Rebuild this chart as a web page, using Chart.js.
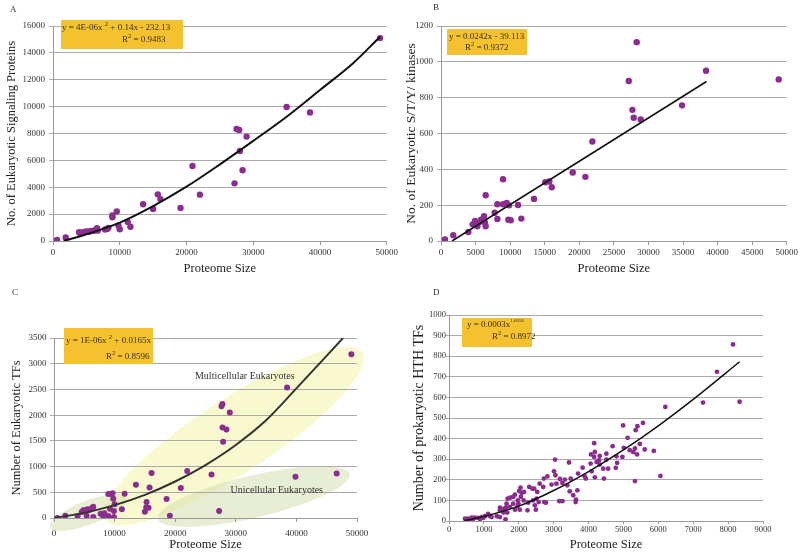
<!DOCTYPE html>
<html>
<head>
<meta charset="utf-8">
<script src="https://cdn.jsdelivr.net/npm/chart.js@4.4.1/dist/chart.umd.min.js"></script>
<style>
  body { margin: 0; background: #fff; width: 800px; height: 552px; position: relative; overflow: hidden; }
  canvas { position: absolute; }
</style>
</head>
<body>
<canvas id="chartA" style="left:0;top:0" width="400" height="276"></canvas>
<canvas id="chartB" style="left:400px;top:0" width="400" height="276"></canvas>
<canvas id="chartC" style="left:0;top:276px" width="400" height="276"></canvas>
<canvas id="chartD" style="left:400px;top:276px" width="400" height="276"></canvas>
<script>
'use strict';

const SERIF = '"Liberation Serif", "Times New Roman", serif';
const PURPLE = '#8b2d8f';

// A - signaling proteins
const sizeA = [600, 1900, 3900, 4100, 4400, 4800, 5100, 5400, 5700, 6100, 6400, 6600, 6700, 7800, 8100, 8300,
  8900, 8900, 9550, 9800, 10000, 11200, 11600, 13500, 15000, 15700, 16100, 19100, 20900, 22000,
  27200, 27500, 27900, 28000, 28400, 29000, 35000, 38500, 49000];
const signalA = [80, 260, 650, 580, 640, 690, 720, 680, 740, 760, 800, 950, 780, 860, 900, 980,
  1900, 1760, 2200, 1150, 880, 1420, 1060, 2730, 2380, 3470, 3120, 2460, 5580, 3450,
  4290, 8330, 8260, 6700, 5260, 7770, 9970, 9570, 15100];
const trendXA = [1600, 5000, 10000, 15000, 20000, 25000, 30000, 35000, 40000, 45000, 49000];
const trendYA = [0, 500, 1370, 2600, 4040, 5700, 7450, 9250, 11240, 13250, 15200];

// B - S/T/Y kinases
const sizeB = [580, 1780, 3950, 4580, 4920, 5160, 5260, 5540, 5790, 6220, 6360, 6460, 6460, 7760, 8150, 8150,
  8970, 8970, 9500, 9840, 9740, 10080, 11140, 11620, 13450, 15090, 15670, 16010, 19050, 20880, 21890,
  27150, 27680, 27870, 28300, 28880, 34860, 38330, 48840];
const kinaseB = [9, 32, 50, 93, 112, 93, 82, 106, 119, 138, 102, 82, 255, 158, 205, 123,
  345, 205, 212, 199, 119, 116, 201, 125, 235, 328, 332, 300, 382, 358, 555,
  893, 732, 688, 1110, 678, 757, 950, 902];
const trendXB = [1600, 38400];
const trendYB = [0, 890];

// C - eukaryotic TFs
const sizeC = [550, 1870, 3900, 4560, 4840, 5220, 5550, 5820, 6100, 6370, 6480, 5380, 6480, 7690, 8130, 8300,
  8130, 8960, 8960, 9400, 9670, 9230, 9780, 10000, 9890, 9890, 11210, 11650, 13520, 15000, 15220,
  15270, 15600, 15770, 16100, 18570, 19120, 20930, 21980, 25990, 27250, 27640, 27800, 29010, 27800,
  28460, 27910, 38460, 39840, 46650, 49070];
const tfC = [0, 45, 39, 116, 149, 155, 168, 155, 175, 200, 220, 45, 19, 84, 65, 90,
  39, 39, 466, 466, 479, 181, 375, 265, 136, 19, 168, 472, 647, 123, 207,
  310, 200, 595, 873, 369, 45, 582, 912, 848, 136, 2174, 2219, 2051, 1760,
  1721, 1481, 2536, 802, 867, 3183];
const trendXC = [0, 5000, 10000, 15000, 20000, 25000, 30000, 35000, 40000, 47700];
const trendYC = [0, 100, 250, 450, 710, 1030, 1420, 1900, 2520, 3500];

// D - prokaryotic HTH TFs
const sizeD = [8140, 7680, 7280, 8330, 6200, 6060, 4990, 5120, 5400, 5350, 5560, 5470, 5010, 5330, 5280, 5390,
  5610, 5870, 5330, 5180, 4160, 4180, 4070, 4160, 4230, 4300, 4320, 4420, 4440, 4180, 4060, 4090,
  4510, 4510, 4560, 4690, 4800, 4820, 4780, 4320, 4970, 3040, 3010, 3050, 3180, 3250, 3320, 3160,
  3250, 3440, 3490, 3460, 3560, 3640, 3630, 3390, 3700, 3830, 3890, 3920, 3680, 3080, 2940, 2720,
  2700, 2820, 2600, 2530, 2440, 2390, 2300, 2570, 2510, 2780, 2730, 2410, 2460, 2490, 2270, 2250,
  2080, 2050, 2010, 2060, 2150, 2140, 1970, 1990, 1960, 2030, 1890, 1840, 1750, 1680, 1840, 1750,
  1890, 1650, 1630, 1580, 1460, 1460, 1560, 1670, 1620, 1370, 1460, 1220, 1130, 1030, 940, 840,
  740, 650, 550, 460, 510, 700, 980, 1170, 890, 600, 1120];
const hthD = [857, 724, 575, 579, 554, 219, 464, 404, 460, 441, 476, 374, 355, 352, 335, 323,
  347, 340, 194, 344, 378, 335, 323, 311, 287, 295, 274, 254, 206, 212, 279, 241,
  327, 298, 254, 363, 314, 282, 258, 316, 311, 298, 241, 222, 204, 185, 201, 96,
  96, 284, 206, 144, 125, 104, 92, 173, 230, 259, 217, 206, 149, 181, 177, 206,
  165, 217, 181, 141, 157, 157, 165, 92, 109, 89, 92, 100, 76, 55, 89, 52,
  136, 162, 146, 117, 141, 100, 100, 84, 71, 55, 128, 117, 113, 109, 84, 68,
  55, 84, 65, 60, 65, 52, 41, 41, 8, 23, 19, 19, 31, 23, 19, 15,
  16, 16, 11, 11, 6, 11, 15, 24, 10, 6, 35];
const trendXD = [450, 1000, 2000, 3000, 4000, 5000, 6000, 7000, 8330];
const trendYD = [3, 22, 72, 148, 240, 345, 462, 590, 773];

function pairs(xs, ys) {
  return xs.map((x, i) => ({ x: x, y: ys[i] }));
}

// segments: [text, isSuperscript]
function drawSegments(ctx, segs, x, y, size, supSize) {
  ctx.textBaseline = 'middle';
  ctx.textAlign = 'left';
  segs.forEach(s => {
    if (s[1]) {
      ctx.font = supSize + 'px ' + SERIF;
      ctx.fillText(s[0], x, y - size * 0.45);
    } else {
      ctx.font = size + 'px ' + SERIF;
      ctx.fillText(s[0], x, y);
    }
    x += ctx.measureText(s[0]).width;
  });
}

function makeNotes(cfg) {
  return {
    id: 'notes',
    beforeDraw(chart) {
      const ctx = chart.ctx, xs = chart.scales.x, ys = chart.scales.y;
      (cfg.ellipses || []).forEach(e => {
        const x1 = xs.getPixelForValue(e.from[0]), y1 = ys.getPixelForValue(e.from[1]);
        const x2 = xs.getPixelForValue(e.to[0]), y2 = ys.getPixelForValue(e.to[1]);
        ctx.save();
        ctx.fillStyle = e.color;
        ctx.beginPath();
        ctx.ellipse((x1 + x2) / 2, (y1 + y2) / 2, Math.hypot(x2 - x1, y2 - y1) / 2, e.minor,
          Math.atan2(y2 - y1, x2 - x1), 0, Math.PI * 2);
        ctx.fill();
        ctx.restore();
      });
    },
    afterDraw(chart) {
      const ctx = chart.ctx, xs = chart.scales.x, ys = chart.scales.y;
      ctx.save();
      // panel letter
      ctx.fillStyle = '#333';
      ctx.font = '9px ' + SERIF;
      ctx.textBaseline = 'middle';
      ctx.fillText(cfg.letter[0], cfg.letter[1], cfg.letter[2]);
      // equation box
      const b = cfg.box;
      ctx.fillStyle = '#f5c22f';
      ctx.fillRect(b[0], b[1], b[2], b[3]);
      ctx.fillStyle = '#3a2e18';
      cfg.eq.forEach(line => drawSegments(ctx, line.segs, line.x, line.y, 9, line.sup || 6.5));
      // text labels in data units
      (cfg.labels || []).forEach(l => {
        ctx.font = '10px ' + SERIF;
        ctx.fillStyle = '#333';
        ctx.textAlign = 'center';
        ctx.fillText(l.text, xs.getPixelForValue(l.at[0]), ys.getPixelForValue(l.at[1]));
      });
      ctx.restore();
    }
  };
}

function panel(id, cfg) {
  return new Chart(document.getElementById(id), {
    type: 'scatter',
    data: {
      datasets: [
        {
          type: 'line',
          data: pairs(cfg.tx, cfg.ty),
          borderColor: cfg.lineColor,
          borderWidth: cfg.lineWidth,
          pointRadius: 0,
          fill: false,
          cubicInterpolationMode: 'monotone',
          order: 0
        },
        {
          data: pairs(cfg.px, cfg.py),
          pointRadius: cfg.r,
          backgroundColor: PURPLE,
          borderWidth: 0,
          order: 1
        }
      ]
    },
    options: {
      responsive: false,
      animation: false,
      events: [],
      layout: { autoPadding: false, padding: { top: cfg.top, right: cfg.right, left: 0, bottom: 0 } },
      plugins: { legend: { display: false }, tooltip: { enabled: false } },
      scales: {
        x: {
          type: 'linear', min: 0, max: cfg.xMax,
          ticks: {
            stepSize: cfg.xStep, autoSkip: false, maxRotation: 0, padding: cfg.xPad,
            font: { family: SERIF, size: cfg.tickSize }, color: '#333',
            callback: v => String(v)
          },
          grid: { drawOnChartArea: false, tickLength: cfg.tl, color: '#999' },
          border: { color: '#999' },
          title: {
            display: true, text: 'Proteome Size', color: '#222',
            font: { family: SERIF, size: 12.5 }, padding: { top: 0, bottom: -0.5 }
          },
          afterFit: s => { s.height = cfg.xH; }
        },
        y: {
          type: 'linear', min: 0, max: cfg.yMax,
          ticks: {
            stepSize: cfg.yStep, padding: cfg.yPad,
            font: { family: SERIF, size: cfg.tickSize }, color: '#333',
            callback: v => String(v)
          },
          grid: { color: '#aaa', tickLength: cfg.tl, drawTicks: true },
          border: { color: '#999' },
          title: {
            display: true, text: cfg.yTitle, color: '#222',
            font: { family: SERIF, size: cfg.yTitleSize }, padding: { top: cfg.yTitlePad, bottom: 0 }
          },
          afterFit: s => { s.width = cfg.yW; }
        }
      }
    },
    plugins: [makeNotes(cfg)]
  });
}

panel('chartA', {
  px: sizeA, py: signalA, tx: trendXA, ty: trendYA, r: 3.2, lineColor: '#111', lineWidth: 2,
  xMax: 50000, xStep: 10000, yMax: 16000, yStep: 2000,
  top: 26, right: 10, xH: 35, yW: 53, tl: 4, xPad: 2, yPad: 4, tickSize: 9,
  yTitle: 'No. of Eukaryotic Signaling Proteins', yTitleSize: 12.5, yTitlePad: 4.5,
  letter: ['A', 10, 10],
  box: [61, 20, 122, 29],
  eq: [
    { x: 62, y: 28, segs: [['y = 4E-06x '], ['2', 1], [' + 0.14x - 232.13']] },
    { x: 122, y: 40, segs: [['R'], ['2', 1], [' = 0.9483']] }
  ]
});

panel('chartB', {
  px: sizeB, py: kinaseB, tx: trendXB, ty: trendYB, r: 3.2, lineColor: '#111', lineWidth: 1.6,
  xMax: 50000, xStep: 5000, yMax: 1200, yStep: 200,
  top: 26, right: 13, xH: 35, yW: 41, tl: 4, xPad: 2, yPad: 4, tickSize: 9,
  yTitle: 'No. of Eukaryotic S/T/Y/ kinases', yTitleSize: 13.5, yTitlePad: 3,
  letter: ['B', 33, 8],
  box: [47, 29, 80, 26],
  eq: [
    { x: 49, y: 37, segs: [['y = 0.0242x - 39.113']] },
    { x: 65, y: 48, segs: [['R'], ['2', 1], [' = 0.9372']] }
  ]
});

panel('chartC', {
  px: sizeC, py: tfC, tx: trendXC, ty: trendYC, r: 3, lineColor: '#333', lineWidth: 2,
  xMax: 50000, xStep: 10000, yMax: 3500, yStep: 500,
  top: 62, right: 43, xH: 34, yW: 54, tl: 4, xPad: 6, yPad: 3.5, tickSize: 9,
  yTitle: 'Number of Eukaryotic TFs', yTitleSize: 12.5, yTitlePad: 9.5,
  letter: ['C', 12, 17],
  box: [64, 52, 89, 36],
  eq: [
    { x: 66, y: 65, segs: [['y = 1E-06x '], ['2', 1], [' + 0.0165x']] },
    { x: 106, y: 81, segs: [['R'], ['2', 1], [' = 0.8596']] }
  ],
  ellipses: [
    { from: [8400, -40], to: [50900, 3220], minor: 37, color: 'rgba(244,244,160,0.5)' },
    { from: [-660, -175], to: [12035, 388], minor: 12, color: 'rgba(205,218,160,0.45)' },
    { from: [17145, -19], to: [48800, 854], minor: 21, color: 'rgba(205,218,160,0.45)' }
  ],
  labels: [
    { text: 'Multicellular Eukaryotes', at: [31490, 2757] },
    { text: 'Unicellular Eukaryotes', at: [36760, 544] }
  ]
});

panel('chartD', {
  px: sizeD, py: hthD, tx: trendXD, ty: trendYD, r: 2.4, lineColor: '#111', lineWidth: 1.5,
  xMax: 9000, xStep: 1000, yMax: 1000, yStep: 100,
  top: 39, right: 37, xH: 31, yW: 49, tl: 3, xPad: 0.5, yPad: 0, tickSize: 8.5,
  yTitle: 'Number of prokaryotic HTH TFs', yTitleSize: 14, yTitlePad: 11,
  letter: ['D', 33, 17],
  box: [62, 42, 70, 29],
  eq: [
    { x: 67, y: 49, segs: [['y = 0.0003x'], ['1.6056', 1]], sup: 5 },
    { x: 92, y: 61, segs: [['R'], ['2', 1], [' = 0.8972']] }
  ]
});
</script>
</body>
</html>
